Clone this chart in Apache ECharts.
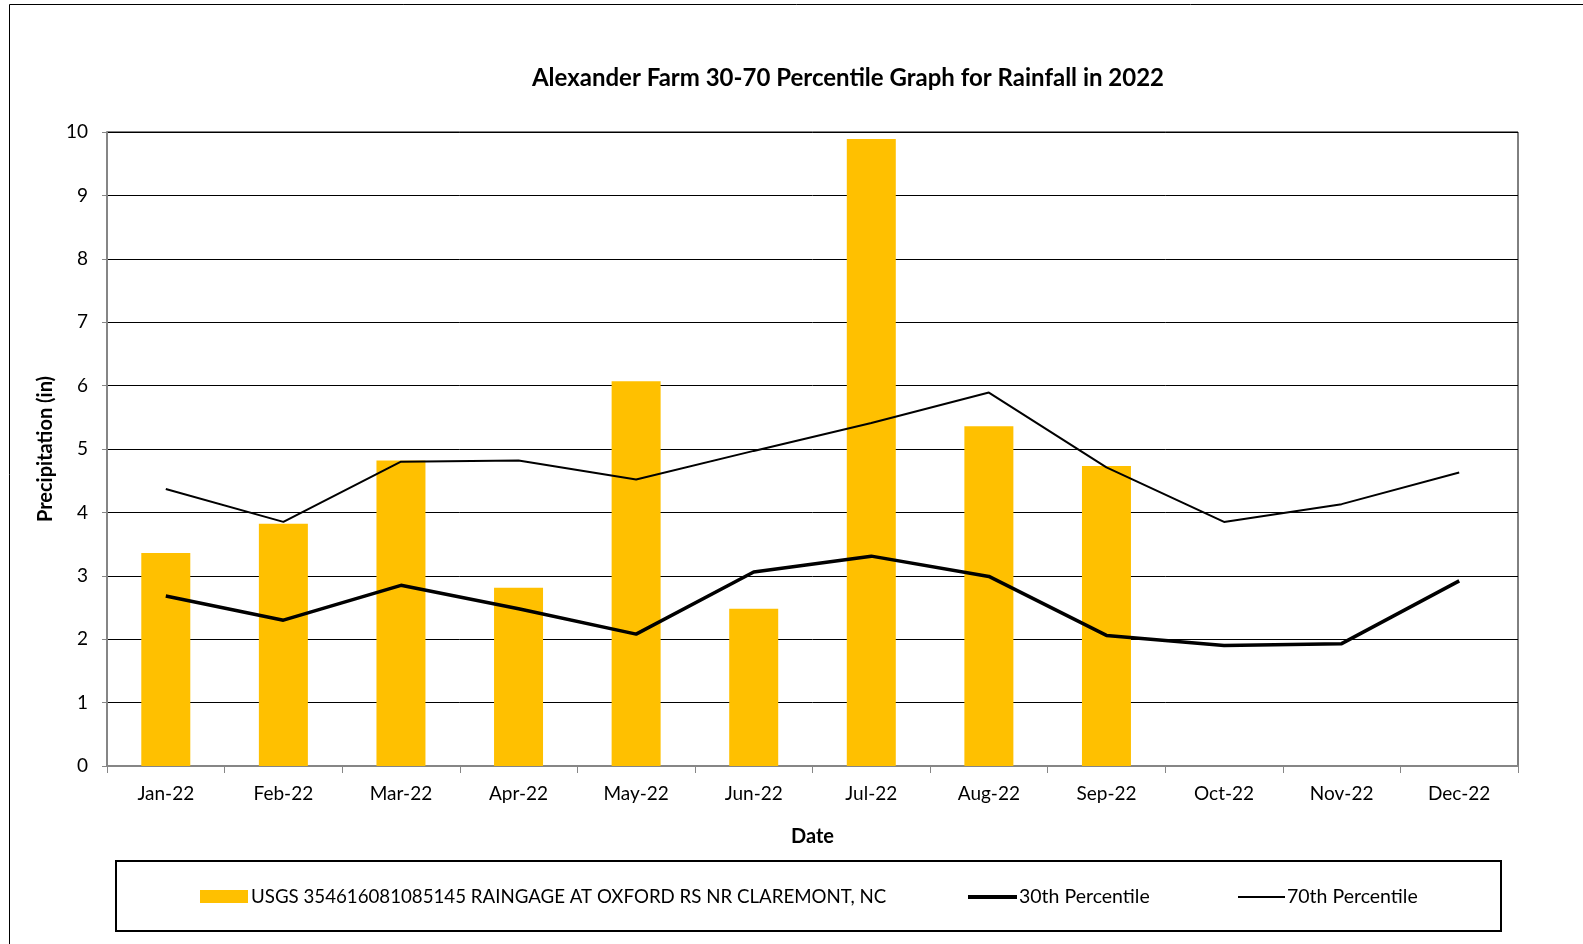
<!DOCTYPE html>
<html><head><meta charset="utf-8">
<script src="https://cdn.jsdelivr.net/npm/echarts@6/dist/echarts.min.js"></script>
<style>html,body{margin:0;padding:0;background:#fff}#c{width:1583px;height:944px}</style>
</head><body><div id="c"></div>
<script>
const categories = ['Jan-22','Feb-22','Mar-22','Apr-22','May-22','Jun-22','Jul-22','Aug-22','Sep-22','Oct-22','Nov-22','Dec-22'];
const rainfall = [3.36, 3.82, 4.82, 2.81, 6.07, 2.48, 9.89, 5.36, 4.73, null, null, null];
const p30 = [2.68, 2.30, 2.85, 2.48, 2.08, 3.06, 3.31, 2.99, 2.06, 1.90, 1.93, 2.92];
const p70 = [4.37, 3.85, 4.80, 4.82, 4.52, 4.97, 5.41, 5.89, 4.71, 3.85, 4.13, 4.63];
const yTicks = [0,1,2,3,4,5,6,7,8,9,10];
const barName = 'USGS 354616081085145 RAINGAGE AT OXFORD RS NR CLAREMONT, NC';

const FONT = 'Lato';
const chart = echarts.init(document.getElementById('c'), null, {renderer:'canvas'});
chart.setOption({
  animation:false,
  backgroundColor:'#fff',
  textStyle:{fontFamily:FONT},
  title:{text:'Alexander Farm 30-70 Percentile Graph for Rainfall in 2022', left:843, top:61, textAlign:'center',
    textStyle:{fontFamily:FONT, fontSize:24, fontWeight:'bold', color:'#000'}},
  graphic:[
    {type:'rect', shape:{x:9.5,y:4.5,width:1600,height:1000}, style:{fill:null, stroke:'#000', lineWidth:1}, silent:true},
    {type:'rect', shape:{x:116,y:861,width:1385,height:70}, style:{fill:null, stroke:'#000', lineWidth:2}, silent:true}
  ],
  legend:[
    {data:[barName], left:200, top:887, itemWidth:48, itemHeight:13, icon:'rect', itemGap:0, padding:0,
      textStyle:{fontFamily:FONT, fontSize:18.7, color:'#000', padding:[0,0,0,-2]}},
    {data:['30th Percentile'], left:968, top:887, itemWidth:49, itemHeight:4, icon:'rect', padding:0,
      textStyle:{fontFamily:FONT, fontSize:19.5, color:'#000', padding:[0,0,0,-3]}},
    {data:['70th Percentile'], left:1238, top:887, itemWidth:47, itemHeight:2, icon:'rect', padding:0,
      textStyle:{fontFamily:FONT, fontSize:19.5, color:'#000', padding:[0,0,0,-3]}}
  ],
  grid:{left:107, right:65, top:132, bottom:178, show:true, borderColor:'#000', borderWidth:1, containLabel:false},
  xAxis:{type:'category', data:categories, boundaryGap:true,
    name:'Date', nameLocation:'middle', nameGap:61,
    nameTextStyle:{fontFamily:FONT, fontSize:20, fontWeight:'bold', color:'#000'},
    axisLine:{lineStyle:{color:'#868686', width:2}},
    axisTick:{show:true, alignWithLabel:false, length:7, lineStyle:{color:'#868686'}},
    axisLabel:{fontFamily:FONT, fontSize:19, color:'#000', margin:18},
    splitLine:{show:false}},
  yAxis:{type:'value', min:0, max:10, interval:1,
    name:'Precipitation (in)', nameLocation:'middle', nameGap:51, nameRotate:90,
    nameTextStyle:{fontFamily:FONT, fontSize:20, fontWeight:'bold', color:'#000'},
    axisLine:{show:true, lineStyle:{color:'#868686', width:2}},
    axisTick:{show:true, length:5, lineStyle:{color:'#868686'}},
    axisLabel:{fontFamily:FONT, fontSize:19, color:'#000', margin:19, formatter:v=>yTicks.includes(v)?String(v):''},
    splitLine:{show:true, lineStyle:{color:'#000', width:1}}},
  series:[
    {name:barName, type:'bar', data:rainfall, barWidth:49, itemStyle:{color:'#FFC000'}, z:2},
    {name:'30th Percentile', type:'line', data:p30, symbol:'none', itemStyle:{color:'#000'}, lineStyle:{color:'#000', width:3.5}, z:3},
    {name:'70th Percentile', type:'line', data:p70, symbol:'none', itemStyle:{color:'#000'}, lineStyle:{color:'#000', width:2}, z:3}
  ]
});
</script></body></html>
